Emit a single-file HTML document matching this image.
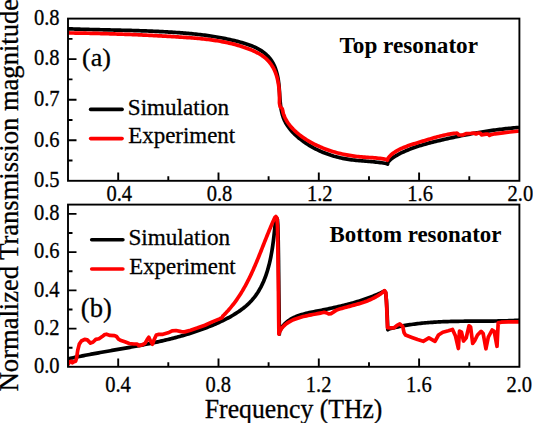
<!DOCTYPE html><html><head><meta charset="utf-8"><style>html,body{margin:0;padding:0;background:#fff;width:533px;height:423px;overflow:hidden}svg{display:block}</style></head><body><svg width="533" height="423" viewBox="0 0 533 423"><rect width="533" height="423" fill="#fff"/><defs><clipPath id="c1"><rect x="68" y="18.6" width="451.4" height="162.2"/></clipPath><clipPath id="c2"><rect x="68" y="204.6" width="451.4" height="162.2"/></clipPath></defs><g clip-path="url(#c1)" fill="none" stroke-width="3.7" stroke-linejoin="round" stroke-linecap="round"><polyline points="66.00,28.80 67.55,28.76 69.05,28.82 70.54,28.88 72.04,28.93 73.54,28.98 75.04,29.04 76.55,29.09 78.05,29.13 79.55,29.18 81.06,29.23 82.56,29.27 84.07,29.31 85.58,29.36 87.08,29.40 88.59,29.44 90.10,29.48 91.61,29.52 93.12,29.56 94.63,29.59 96.14,29.63 97.65,29.67 99.16,29.70 100.68,29.74 102.19,29.77 103.70,29.81 105.22,29.84 106.73,29.88 108.25,29.91 109.76,29.95 111.28,29.98 112.79,30.02 114.31,30.05 115.82,30.09 117.34,30.12 118.86,30.16 120.37,30.20 121.89,30.23 123.40,30.27 124.92,30.31 126.44,30.35 127.95,30.39 129.47,30.43 130.99,30.47 132.50,30.51 134.02,30.56 135.54,30.60 137.05,30.65 138.57,30.70 140.08,30.75 141.60,30.80 143.11,30.85 144.63,30.90 146.14,30.96 147.66,31.01 149.17,31.07 150.68,31.13 152.20,31.20 153.71,31.26 155.22,31.33 156.73,31.39 158.24,31.47 159.75,31.54 161.26,31.61 162.77,31.69 164.28,31.77 165.79,31.85 167.29,31.94 168.80,32.03 170.30,32.12 171.81,32.21 173.31,32.30 174.82,32.40 176.32,32.51 177.82,32.61 179.32,32.72 180.82,32.83 182.32,32.94 183.81,33.06 185.31,33.18 186.81,33.31 188.30,33.44 189.80,33.57 191.29,33.71 192.78,33.85 194.27,34.00 195.76,34.16 197.26,34.31 198.75,34.48 200.24,34.65 201.73,34.83 203.21,35.01 204.70,35.20 206.19,35.39 207.68,35.59 209.17,35.80 210.65,36.02 212.14,36.24 213.63,36.48 215.11,36.71 216.60,36.96 218.09,37.22 219.57,37.48 221.06,37.76 222.55,38.04 224.03,38.33 225.52,38.63 227.01,38.94 228.49,39.26 229.98,39.59 231.47,39.93 232.96,40.28 234.44,40.64 235.93,41.01 237.42,41.39 238.91,41.79 240.40,42.19 241.89,42.61 243.38,43.04 244.86,43.49 246.34,43.95 247.80,44.44 249.26,44.94 250.71,45.48 252.13,46.04 253.54,46.63 254.94,47.24 256.30,47.90 257.65,48.58 258.97,49.31 260.26,50.07 261.52,50.88 262.74,51.72 263.93,52.61 265.08,53.53 266.19,54.50 267.26,55.51 268.28,56.56 269.25,57.64 270.17,58.77 271.04,59.93 271.85,61.14 272.61,62.38 273.31,63.65 273.97,64.96 274.57,66.30 275.13,67.67 275.65,69.06 276.12,70.47 276.55,71.91 276.95,73.37 277.31,74.85 277.63,76.34 277.92,77.84 278.18,79.36 278.42,80.89 278.62,82.42 278.81,83.96 278.97,85.50 279.11,87.04 279.24,88.59 279.36,90.13 279.47,91.68 279.57,93.22 279.67,94.76 279.77,96.30 279.88,97.83 279.99,99.36 280.11,100.88 280.25,102.40 280.41,103.90 280.58,105.40 280.78,106.88 281.00,108.36 281.26,109.82 281.54,111.26 281.87,112.70 282.23,114.11 282.64,115.52 283.09,116.90 283.59,118.26 284.14,119.61 284.74,120.93 285.41,122.24 286.12,123.52 286.88,124.78 287.69,126.02 288.55,127.24 289.45,128.43 290.39,129.61 291.37,130.76 292.39,131.89 293.44,133.00 294.53,134.09 295.64,135.15 296.78,136.19 297.94,137.21 299.13,138.21 300.34,139.18 301.57,140.13 302.81,141.05 304.07,141.96 305.33,142.84 306.61,143.69 307.90,144.52 309.20,145.33 310.50,146.12 311.82,146.88 313.14,147.63 314.48,148.34 315.82,149.04 317.17,149.72 318.53,150.37 319.90,151.00 321.27,151.61 322.66,152.20 324.05,152.77 325.44,153.31 326.85,153.84 328.26,154.34 329.68,154.83 331.10,155.30 332.54,155.74 333.97,156.17 335.42,156.57 336.87,156.96 338.32,157.33 339.78,157.68 341.25,158.01 342.72,158.32 344.19,158.62 345.67,158.89 347.15,159.15 348.64,159.39 350.13,159.61 351.63,159.82 353.13,160.01 354.63,160.18 356.14,160.34 357.64,160.50 359.15,160.64 360.66,160.78 362.18,160.91 363.69,161.03 365.20,161.15 366.71,161.28 368.23,161.40 369.74,161.52 371.25,161.65 372.75,161.78 374.26,161.92 375.76,162.07 377.26,162.23 378.76,162.39 380.25,162.58 381.74,162.77 383.23,162.99 384.71,163.22 386.18,163.47 387.60,164.00 387.89,162.26 388.88,161.17 389.93,160.13 391.03,159.16 392.17,158.25 393.36,157.38 394.59,156.56 395.85,155.78 397.14,155.04 398.45,154.33 399.78,153.64 401.12,152.97 402.47,152.33 403.83,151.70 405.21,151.09 406.59,150.49 407.99,149.92 409.39,149.36 410.80,148.82 412.22,148.29 413.65,147.77 415.09,147.27 416.53,146.79 417.98,146.31 419.44,145.85 420.90,145.40 422.37,144.96 423.84,144.53 425.31,144.12 426.79,143.71 428.28,143.31 429.76,142.91 431.25,142.53 432.74,142.15 434.23,141.78 435.72,141.41 437.21,141.05 438.70,140.70 440.19,140.34 441.68,140.00 443.17,139.65 444.66,139.31 446.15,138.97 447.63,138.63 449.12,138.30 450.61,137.98 452.09,137.65 453.58,137.33 455.06,137.01 456.54,136.70 458.03,136.39 459.51,136.09 460.99,135.78 462.48,135.49 463.96,135.19 465.45,134.90 466.93,134.62 468.41,134.34 469.90,134.06 471.38,133.78 472.87,133.52 474.36,133.25 475.84,132.99 477.33,132.73 478.82,132.48 480.31,132.23 481.80,131.99 483.29,131.75 484.78,131.51 486.27,131.28 487.77,131.05 489.26,130.83 490.76,130.62 492.26,130.40 493.76,130.19 495.26,129.99 496.76,129.79 498.27,129.60 499.77,129.41 501.28,129.22 502.79,129.05 504.30,128.87 505.82,128.70 507.33,128.54 508.85,128.38 510.37,128.22 511.89,128.07 513.42,127.92 514.95,127.78 516.48,127.65 518.01,127.52 519.55,127.40 521.00,127.20" stroke="#000"/><polyline points="66.00,32.90 67.47,32.94 69.00,32.96 70.53,32.98 72.05,33.00 73.58,33.02 75.11,33.04 76.63,33.06 78.15,33.08 79.68,33.11 81.20,33.13 82.72,33.16 84.24,33.19 85.76,33.21 87.28,33.24 88.80,33.27 90.31,33.30 91.83,33.33 93.35,33.37 94.86,33.40 96.38,33.43 97.89,33.47 99.40,33.51 100.92,33.54 102.43,33.58 103.94,33.62 105.45,33.66 106.96,33.71 108.47,33.75 109.98,33.79 111.49,33.84 113.00,33.88 114.51,33.93 116.02,33.98 117.53,34.03 119.04,34.08 120.55,34.13 122.05,34.18 123.56,34.24 125.07,34.29 126.58,34.35 128.08,34.40 129.59,34.46 131.10,34.52 132.60,34.58 134.11,34.64 135.62,34.70 137.13,34.77 138.63,34.83 140.14,34.90 141.65,34.96 143.15,35.03 144.66,35.10 146.17,35.17 147.68,35.24 149.18,35.32 150.69,35.39 152.20,35.47 153.71,35.54 155.22,35.62 156.73,35.70 158.24,35.78 159.75,35.86 161.26,35.94 162.77,36.03 164.28,36.11 165.79,36.20 167.31,36.28 168.82,36.37 170.33,36.46 171.85,36.55 173.36,36.65 174.88,36.74 176.39,36.83 177.91,36.93 179.42,37.03 180.94,37.13 182.46,37.23 183.98,37.33 185.50,37.43 187.02,37.54 188.54,37.65 190.06,37.76 191.58,37.88 193.10,38.00 194.61,38.12 196.13,38.25 197.65,38.39 199.17,38.53 200.68,38.68 202.20,38.83 203.71,38.99 205.23,39.16 206.74,39.33 208.25,39.51 209.76,39.70 211.26,39.90 212.77,40.11 214.27,40.33 215.77,40.55 217.27,40.79 218.77,41.04 220.26,41.29 221.75,41.56 223.24,41.84 224.72,42.13 226.21,42.44 227.69,42.75 229.16,43.08 230.64,43.43 232.10,43.78 233.57,44.15 235.03,44.54 236.49,44.94 237.95,45.35 239.40,45.78 240.84,46.22 242.28,46.69 243.72,47.16 245.15,47.66 246.58,48.17 248.00,48.70 249.42,49.25 250.84,49.82 252.24,50.40 253.64,51.01 255.02,51.65 256.38,52.31 257.72,53.00 259.04,53.73 260.34,54.49 261.60,55.29 262.83,56.13 264.02,57.01 265.17,57.93 266.28,58.91 267.34,59.92 268.36,60.99 269.33,62.09 270.26,63.24 271.14,64.43 271.97,65.66 272.75,66.93 273.48,68.23 274.15,69.58 274.78,70.95 275.36,72.36 275.90,73.79 276.39,75.25 276.83,76.73 277.24,78.23 277.61,79.74 277.94,81.27 278.23,82.81 278.48,84.35 278.71,85.91 278.90,87.46 279.06,89.02 279.20,90.57 279.31,92.11 279.39,93.64 279.45,95.17 279.48,96.68 279.50,98.17 279.50,99.64 279.48,101.09 279.44,102.51 279.60,104.00 280.20,107.00 282.20,108.60 282.80,111.00 283.06,112.58 283.52,114.08 284.05,115.54 284.64,116.96 285.29,118.34 285.99,119.68 286.74,120.98 287.55,122.25 288.40,123.49 289.30,124.69 290.24,125.87 291.21,127.02 292.22,128.13 293.27,129.23 294.34,130.30 295.45,131.34 296.58,132.37 297.74,133.36 298.92,134.34 300.12,135.29 301.35,136.22 302.60,137.13 303.87,138.01 305.16,138.87 306.47,139.71 307.79,140.53 309.13,141.33 310.48,142.10 311.85,142.85 313.23,143.58 314.61,144.29 316.01,144.98 317.41,145.65 318.82,146.30 320.24,146.92 321.66,147.53 323.09,148.11 324.51,148.68 325.95,149.23 327.39,149.75 328.83,150.26 330.28,150.75 331.73,151.22 333.18,151.67 334.64,152.10 336.11,152.51 337.57,152.91 339.05,153.29 340.52,153.65 342.01,153.99 343.49,154.31 344.98,154.62 346.48,154.91 347.98,155.19 349.48,155.44 350.99,155.68 352.50,155.91 354.02,156.12 355.54,156.31 357.06,156.49 358.59,156.65 360.12,156.80 361.66,156.93 363.20,157.06 364.75,157.17 366.29,157.28 367.84,157.38 369.38,157.48 370.93,157.59 372.47,157.70 374.01,157.83 375.54,157.96 377.07,158.11 378.59,158.27 380.10,158.46 381.61,158.66 383.10,158.90 384.59,159.16 386.07,159.46 387.40,160.20 387.85,158.62 388.73,157.40 389.70,156.27 390.74,155.21 391.85,154.23 393.01,153.31 394.23,152.44 395.48,151.63 396.77,150.86 398.09,150.13 399.43,149.43 400.80,148.77 402.19,148.13 403.61,147.53 405.04,146.95 406.48,146.40 407.94,145.86 409.41,145.35 410.89,144.85 412.37,144.36 413.87,143.89 415.36,143.42 416.85,142.96 418.35,142.50 419.84,142.05 421.32,141.60 422.80,141.14 424.28,140.69 425.75,140.23 427.21,139.78 428.68,139.34 430.14,138.90 431.60,138.46 433.06,138.04 434.52,137.62 435.99,137.21 437.45,136.81 438.92,136.42 440.39,136.05 441.87,135.68 443.35,135.34 444.84,135.01 446.33,134.70 447.83,134.40 449.34,134.13 450.86,133.88 452.39,133.65 453.92,133.44 455.47,133.25 457.00,133.20 459.00,135.00 463.00,135.00 466.00,133.60 471.00,133.30 474.00,133.00 476.00,134.00 478.00,133.00 480.00,133.00 481.50,134.80 486.00,134.20 488.00,134.00 489.50,135.40 491.00,134.60 495.00,133.80 503.00,132.80 510.00,132.00 521.00,130.90" stroke="#f00"/></g><g clip-path="url(#c2)" fill="none" stroke-width="3.7" stroke-linejoin="round" stroke-linecap="round"><polyline points="66.00,359.10 67.48,359.03 68.96,358.70 70.44,358.37 71.93,358.05 73.41,357.73 74.89,357.41 76.38,357.10 77.86,356.79 79.35,356.49 80.84,356.19 82.32,355.89 83.81,355.59 85.29,355.30 86.78,355.02 88.27,354.73 89.75,354.45 91.24,354.17 92.73,353.89 94.21,353.62 95.70,353.35 97.19,353.07 98.67,352.81 100.16,352.54 101.65,352.27 103.13,352.01 104.62,351.74 106.11,351.48 107.59,351.22 109.08,350.96 110.57,350.70 112.05,350.44 113.54,350.18 115.02,349.92 116.51,349.67 117.99,349.41 119.48,349.15 120.96,348.89 122.44,348.63 123.93,348.37 125.41,348.10 126.89,347.84 128.37,347.58 129.85,347.31 131.34,347.05 132.82,346.78 134.29,346.51 135.77,346.23 137.25,345.96 138.73,345.68 140.21,345.41 141.68,345.12 143.16,344.84 144.63,344.55 146.11,344.26 147.58,343.97 149.05,343.68 150.53,343.38 152.00,343.07 153.47,342.77 154.94,342.46 156.41,342.14 157.87,341.82 159.34,341.50 160.80,341.17 162.27,340.84 163.73,340.50 165.19,340.16 166.66,339.82 168.12,339.46 169.57,339.11 171.03,338.74 172.49,338.38 173.94,338.00 175.40,337.62 176.85,337.24 178.30,336.84 179.75,336.45 181.20,336.04 182.65,335.63 184.10,335.21 185.54,334.78 186.99,334.35 188.43,333.91 189.87,333.46 191.31,333.01 192.75,332.55 194.18,332.08 195.62,331.60 197.05,331.11 198.48,330.61 199.91,330.11 201.34,329.60 202.77,329.08 204.19,328.55 205.62,328.01 207.04,327.46 208.46,326.90 209.87,326.34 211.29,325.76 212.71,325.17 214.12,324.58 215.53,323.97 216.94,323.35 218.34,322.72 219.74,322.09 221.14,321.44 222.53,320.77 223.92,320.10 225.29,319.41 226.66,318.71 228.02,317.99 229.37,317.26 230.71,316.52 232.04,315.76 233.35,314.99 234.65,314.20 235.94,313.39 237.21,312.57 238.46,311.73 239.70,310.87 240.92,309.99 242.12,309.10 243.30,308.18 244.46,307.25 245.60,306.30 246.71,305.33 247.80,304.33 248.87,303.32 249.92,302.28 250.93,301.22 251.92,300.14 252.88,299.04 253.82,297.92 254.72,296.77 255.60,295.60 256.45,294.40 257.27,293.19 258.07,291.96 258.84,290.70 259.58,289.43 260.30,288.14 261.00,286.84 261.67,285.51 262.32,284.17 262.94,282.82 263.55,281.45 264.13,280.06 264.69,278.66 265.23,277.25 265.75,275.83 266.25,274.40 266.73,272.95 267.19,271.50 267.64,270.03 268.06,268.56 268.47,267.08 268.86,265.59 269.24,264.09 269.60,262.59 269.95,261.08 270.28,259.57 270.60,258.05 270.90,256.53 271.19,255.01 271.47,253.49 271.74,251.96 271.99,250.43 272.24,248.91 272.47,247.38 272.70,245.86 272.91,244.33 273.12,242.81 273.32,241.29 273.51,239.78 273.69,238.27 273.87,236.77 274.04,235.27 274.20,233.78 274.36,232.29 274.52,230.82 274.67,229.35 274.82,227.89 274.96,226.44 275.10,225.00 275.24,223.57 275.38,222.16 275.52,220.76 275.66,219.37 276.50,217.80 277.40,219.50 277.80,225.00 278.20,240.00 278.50,260.00 278.80,290.00 279.20,320.00 279.40,334.20 279.26,332.41 279.90,330.92 280.61,329.51 281.39,328.18 282.22,326.92 283.11,325.73 284.05,324.62 285.05,323.56 286.09,322.57 287.19,321.64 288.33,320.77 289.51,319.95 290.74,319.18 292.00,318.47 293.29,317.79 294.63,317.17 295.99,316.58 297.38,316.03 298.79,315.52 300.23,315.04 301.70,314.58 303.18,314.16 304.68,313.76 306.19,313.38 307.71,313.02 309.25,312.68 310.79,312.35 312.34,312.03 313.89,311.72 315.43,311.41 316.98,311.11 318.52,310.80 320.06,310.50 321.60,310.19 323.13,309.88 324.65,309.57 326.17,309.26 327.69,308.95 329.21,308.63 330.72,308.31 332.22,307.99 333.72,307.66 335.22,307.33 336.72,307.00 338.21,306.66 339.70,306.31 341.18,305.96 342.66,305.60 344.14,305.24 345.61,304.87 347.08,304.49 348.55,304.11 350.02,303.72 351.48,303.32 352.94,302.91 354.39,302.49 355.85,302.07 357.30,301.63 358.75,301.18 360.19,300.73 361.63,300.26 363.07,299.79 364.51,299.30 365.95,298.80 367.38,298.29 368.81,297.76 370.24,297.23 371.66,296.68 373.09,296.12 374.51,295.54 375.93,294.95 377.35,294.34 378.77,293.72 380.18,293.09 381.60,292.44 383.01,291.78 384.30,291.00 385.60,292.50 386.40,300.00 387.20,315.00 387.80,329.80 389.11,328.96 390.59,328.57 392.07,328.20 393.55,327.85 395.03,327.50 396.52,327.17 398.00,326.85 399.49,326.54 400.98,326.25 402.47,325.96 403.97,325.69 405.46,325.42 406.96,325.17 408.46,324.93 409.96,324.70 411.46,324.47 412.96,324.26 414.47,324.06 415.97,323.86 417.48,323.68 418.99,323.50 420.50,323.34 422.01,323.18 423.52,323.03 425.03,322.88 426.54,322.75 428.06,322.62 429.57,322.50 431.09,322.39 432.61,322.28 434.13,322.18 435.64,322.09 437.16,322.00 438.69,321.92 440.21,321.84 441.73,321.77 443.25,321.71 444.78,321.65 446.30,321.59 447.82,321.54 449.35,321.50 450.88,321.45 452.40,321.42 453.93,321.38 455.46,321.35 456.98,321.32 458.51,321.30 460.04,321.27 461.57,321.26 463.09,321.24 464.62,321.22 466.15,321.21 467.68,321.20 469.21,321.19 470.74,321.18 472.27,321.17 473.80,321.16 475.32,321.16 476.85,321.15 478.38,321.15 479.91,321.14 481.44,321.13 482.96,321.13 484.49,321.12 486.02,321.11 487.54,321.10 489.07,321.09 490.60,321.07 492.12,321.06 493.65,321.04 495.17,321.02 496.69,321.00 498.22,320.97 499.74,320.94 501.26,320.91 502.78,320.88 504.30,320.84 505.82,320.80 507.34,320.75 508.85,320.70 510.37,320.64 511.89,320.58 513.40,320.51 514.91,320.44 516.43,320.37 517.94,320.28 519.45,320.20 521.00,320.30" stroke="#000"/><polyline points="68.10,364.40 69.70,361.70 71.30,361.20 72.40,362.80 74.00,361.70 75.60,361.20 76.60,358.00 77.70,350.50 79.30,344.10 81.40,341.00 84.60,339.40 87.30,339.90 90.50,343.10 93.10,342.00 95.80,339.40 99.00,338.80 102.20,336.60 104.80,334.50 106.50,334.20 110.10,335.40 114.60,335.60 116.50,336.50 118.70,339.30 120.30,340.30 124.80,341.80 129.30,343.50 133.80,344.00 137.20,344.00 138.90,345.60 141.70,345.00 145.00,343.40 147.30,339.40 148.80,337.20 150.50,340.90 152.50,344.20 154.30,339.20 156.30,335.00 158.90,334.40 162.90,334.30 168.10,332.80 172.10,330.80 176.00,330.50 181.30,331.60 184.60,331.90 190.50,330.20 197.00,328.10 204.90,325.20 212.80,321.60 219.50,318.90 222.30,317.50 222.79,316.06 223.91,314.96 225.02,313.84 226.10,312.72 227.16,311.58 228.21,310.43 229.23,309.26 230.24,308.09 231.23,306.91 232.20,305.71 233.15,304.50 234.08,303.28 235.00,302.06 235.90,300.82 236.79,299.57 237.66,298.31 238.51,297.05 239.35,295.77 240.18,294.49 240.99,293.20 241.79,291.90 242.57,290.59 243.34,289.27 244.10,287.95 244.85,286.62 245.59,285.28 246.31,283.93 247.02,282.58 247.72,281.22 248.42,279.86 249.10,278.49 249.77,277.12 250.44,275.73 251.09,274.35 251.74,272.96 252.38,271.57 253.01,270.17 253.64,268.76 254.25,267.36 254.87,265.95 255.47,264.53 256.07,263.12 256.67,261.70 257.26,260.28 257.85,258.85 258.43,257.43 259.01,256.00 259.59,254.57 260.16,253.14 260.73,251.70 261.30,250.27 261.87,248.84 262.43,247.41 263.00,245.97 263.57,244.54 264.13,243.10 264.70,241.67 265.26,240.24 265.83,238.81 266.40,237.38 266.97,235.95 267.55,234.53 268.13,233.11 268.71,231.68 269.29,230.27 269.88,228.85 270.47,227.44 271.07,226.03 271.67,224.63 272.27,223.22 272.89,221.83 273.51,220.43 274.13,219.05 274.77,217.66 275.90,216.50 277.00,218.00 277.50,227.00 277.90,250.00 278.30,280.00 278.50,300.00 278.70,320.00 278.90,334.20 279.32,332.57 280.02,331.09 280.81,329.71 281.68,328.42 282.64,327.21 283.67,326.09 284.77,325.04 285.93,324.07 287.15,323.17 288.43,322.33 289.76,321.55 291.13,320.82 292.54,320.15 293.99,319.52 295.47,318.94 296.97,318.40 298.50,317.90 300.05,317.43 301.62,316.99 303.20,316.58 304.79,316.19 306.39,315.83 307.99,315.49 309.59,315.16 311.18,314.85 312.77,314.55 314.35,314.26 315.91,313.96 317.46,313.68 318.98,313.39 320.48,313.09 321.95,312.79 323.39,312.47 325.00,312.40 327.00,313.00 328.70,314.00 331.00,313.60 333.00,312.40 336.00,310.40 337.43,309.76 338.89,309.30 340.37,308.85 341.85,308.42 343.34,307.99 344.83,307.58 346.33,307.17 347.84,306.77 349.35,306.36 350.86,305.96 352.37,305.56 353.88,305.15 355.39,304.73 356.90,304.31 358.40,303.87 359.90,303.42 361.39,302.96 362.87,302.48 364.35,301.98 365.81,301.45 367.26,300.91 368.71,300.33 370.13,299.73 371.54,299.10 372.94,298.44 374.32,297.74 375.68,297.00 377.02,296.22 378.34,295.41 379.63,294.54 380.91,293.64 382.16,292.68 383.38,291.68 384.50,290.60 385.80,292.50 386.50,303.00 387.00,315.00 387.50,327.70 390.60,327.90 394.10,327.90 397.00,325.40 399.80,324.00 402.70,326.40 404.10,332.80 405.50,335.00 411.90,337.40 417.60,339.60 423.20,341.30 428.90,337.80 432.40,339.90 435.00,341.40 438.50,335.00 442.80,332.20 448.40,330.70 452.50,329.40 455.50,336.00 458.40,348.50 459.50,331.00 461.50,332.20 463.50,341.00 466.20,337.80 469.00,325.80 470.60,327.00 472.70,343.40 474.70,340.70 477.50,335.00 481.10,331.40 483.20,333.60 485.90,348.80 488.30,337.20 492.10,330.00 494.20,331.40 497.00,346.30 498.20,322.90 501.30,322.20 508.40,321.90 521.00,321.80" stroke="#f00"/></g><g fill="none" stroke="#000" stroke-width="1.9"><rect x="68" y="18.6" width="451.4" height="162.2"/><rect x="68" y="204.6" width="451.4" height="162.2"/><path d="M118.2,180.8V172.5M168.3,180.8V176.3M218.5,180.8V172.5M268.6,180.8V176.3M318.8,180.8V172.5M369.0,180.8V176.3M419.1,180.8V172.5M469.3,180.8V176.3M118.2,366.8V358.5M168.3,366.8V362.3M218.5,366.8V358.5M268.6,366.8V362.3M318.8,366.8V358.5M369.0,366.8V362.3M419.1,366.8V358.5M469.3,366.8V362.3M68,160.5H72.5M68,140.3H76.5M68,120.0H72.5M68,99.7H76.5M68,79.4H72.5M68,59.1H76.5M68,38.9H72.5M68,347.7H72.5M68,328.6H76.5M68,309.5H72.5M68,290.4H76.5M68,271.2H72.5M68,252.1H76.5M68,233.0H72.5M68,213.9H76.5"/></g><g stroke-width="3.6" stroke-linecap="round"><line x1="90.6" y1="109.4" x2="122.1" y2="109.4" stroke="#000"/><line x1="90.6" y1="138.6" x2="122.1" y2="138.6" stroke="#f00"/><line x1="91.7" y1="239.7" x2="122.9" y2="239.7" stroke="#000"/><line x1="91.7" y1="269.0" x2="122.9" y2="269.0" stroke="#f00"/></g><g style='font-family:"Liberation Serif", serif' fill="#000"><text transform="translate(59.6,24.9) scale(0.95,1.04)" font-size="21.6" text-anchor="end" stroke="#000" stroke-width="0.3">0.8</text><text transform="translate(59.6,65.4) scale(0.95,1.04)" font-size="21.6" text-anchor="end" stroke="#000" stroke-width="0.3">0.8</text><text transform="translate(59.6,106.0) scale(0.95,1.04)" font-size="21.6" text-anchor="end" stroke="#000" stroke-width="0.3">0.7</text><text transform="translate(59.6,146.6) scale(0.95,1.04)" font-size="21.6" text-anchor="end" stroke="#000" stroke-width="0.3">0.6</text><text transform="translate(59.6,187.1) scale(0.95,1.04)" font-size="21.6" text-anchor="end" stroke="#000" stroke-width="0.3">0.5</text><text transform="translate(59.6,373.1) scale(0.95,1.04)" font-size="21.6" text-anchor="end" stroke="#000" stroke-width="0.3">0.0</text><text transform="translate(59.6,334.9) scale(0.95,1.04)" font-size="21.6" text-anchor="end" stroke="#000" stroke-width="0.3">0.2</text><text transform="translate(59.6,296.7) scale(0.95,1.04)" font-size="21.6" text-anchor="end" stroke="#000" stroke-width="0.3">0.4</text><text transform="translate(59.6,258.4) scale(0.95,1.04)" font-size="21.6" text-anchor="end" stroke="#000" stroke-width="0.3">0.6</text><text transform="translate(59.6,220.2) scale(0.95,1.04)" font-size="21.6" text-anchor="end" stroke="#000" stroke-width="0.3">0.8</text><text transform="translate(119.2,200.9) scale(0.95,1.04)" font-size="21.6" text-anchor="middle" stroke="#000" stroke-width="0.3">0.4</text><text transform="translate(118.0,392.0) scale(0.95,1.04)" font-size="21.6" text-anchor="middle" stroke="#000" stroke-width="0.3">0.4</text><text transform="translate(219.5,200.9) scale(0.95,1.04)" font-size="21.6" text-anchor="middle" stroke="#000" stroke-width="0.3">0.8</text><text transform="translate(218.3,392.0) scale(0.95,1.04)" font-size="21.6" text-anchor="middle" stroke="#000" stroke-width="0.3">0.8</text><text transform="translate(319.8,200.9) scale(0.95,1.04)" font-size="21.6" text-anchor="middle" stroke="#000" stroke-width="0.3">1.2</text><text transform="translate(318.6,392.0) scale(0.95,1.04)" font-size="21.6" text-anchor="middle" stroke="#000" stroke-width="0.3">1.2</text><text transform="translate(420.1,200.9) scale(0.95,1.04)" font-size="21.6" text-anchor="middle" stroke="#000" stroke-width="0.3">1.6</text><text transform="translate(418.9,392.0) scale(0.95,1.04)" font-size="21.6" text-anchor="middle" stroke="#000" stroke-width="0.3">1.6</text><text transform="translate(520.4,200.9) scale(0.95,1.04)" font-size="21.6" text-anchor="middle" stroke="#000" stroke-width="0.3">2.0</text><text transform="translate(519.2,392.0) scale(0.95,1.04)" font-size="21.6" text-anchor="middle" stroke="#000" stroke-width="0.3">2.0</text><text transform="translate(127.8,114.6)" font-size="23.1" stroke="#000" stroke-width="0.3">Simulation</text><text transform="translate(128.2,143.4)" font-size="22.95" stroke="#000" stroke-width="0.3">Experiment</text><text transform="translate(128.4,244.8)" font-size="23.2" stroke="#000" stroke-width="0.3">Simulation</text><text transform="translate(129.3,273.8)" font-size="22.8" stroke="#000" stroke-width="0.3">Experiment</text><text transform="translate(82.0,65.6)" font-size="26.0" stroke="#000" stroke-width="0.3">(a)</text><text transform="translate(80.8,317.4)" font-size="26.6" stroke="#000" stroke-width="0.3">(b)</text><text transform="translate(339.5,52.6) scale(1.0,1.04)" font-size="23.2" font-weight="bold">Top resonator</text><text transform="translate(329.5,242.4)" font-size="22.9" font-weight="bold">Bottom resonator</text><text transform="translate(204.8,417.6) scale(1.0,1.03)" font-size="25.7" stroke="#000" stroke-width="0.3">Frequency (THz)</text><text transform="translate(18.2,391.3) rotate(-90) scale(1.006,1.0)" font-size="26.4" stroke="#000" stroke-width="0.3">Normalized Transmission magnitude</text></g></svg></body></html>
